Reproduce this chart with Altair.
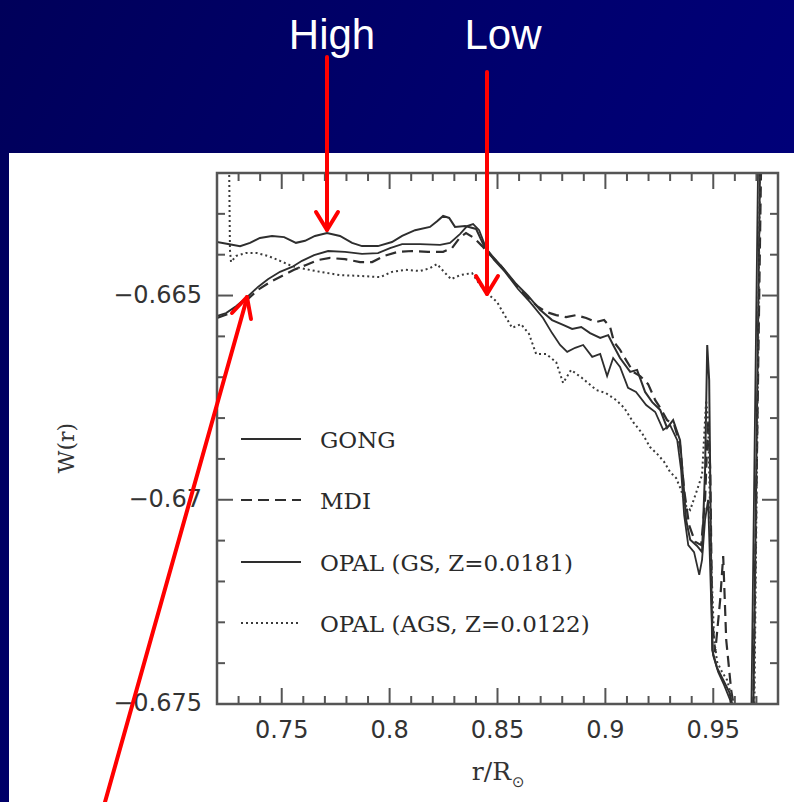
import altair as alt
import pandas as pd

# ---- W(r) profiles: radius r/R_sun and W(r) ----
gong_r = [0.7200, 0.7242, 0.7288, 0.7339, 0.7390, 0.7436, 0.7492, 0.7548, 0.7594, 0.7650,
          0.7715, 0.7793, 0.7872, 0.7946, 0.8002, 0.8058, 0.8141, 0.8234, 0.8280, 0.8327,
          0.8359, 0.8387, 0.8415, 0.8447, 0.8484, 0.8535, 0.8595, 0.8651, 0.8711, 0.8753,
          0.8790, 0.8823, 0.8860, 0.8897, 0.8939, 0.8976, 0.9008, 0.9036, 0.9068, 0.9105,
          0.9142, 0.9189, 0.9231, 0.9268, 0.9300, 0.9333, 0.9351, 0.9365, 0.9384, 0.9411,
          0.9435, 0.9448, 0.9462, 0.9476, 0.9490, 0.9499, 0.9523, 0.9550, 0.9578, 0.9601,
          0.9634, 0.9676, 0.9708]
gong_w = [-0.66550, -0.66543, -0.66526, -0.66504, -0.66479, -0.66460, -0.66442, -0.66430, -0.66415, -0.66401,
          -0.66391, -0.66393, -0.66398, -0.66396, -0.66384, -0.66374, -0.66374, -0.66376, -0.66371, -0.66349,
          -0.66330, -0.66325, -0.66340, -0.66384, -0.66413, -0.66442, -0.66484, -0.66516, -0.66555, -0.66592,
          -0.66621, -0.66638, -0.66628, -0.66621, -0.66650, -0.66643, -0.66697, -0.66653, -0.66675, -0.66726,
          -0.66736, -0.66768, -0.66785, -0.66829, -0.66817, -0.66854, -0.66927, -0.67037, -0.67111, -0.67128,
          -0.67184, -0.67147, -0.67049, -0.67000, -0.67245, -0.67380, -0.67422, -0.67453, -0.67490, -0.67564,
          -0.67735, -0.67539, -0.66168]

mdi_r = [0.7200, 0.7251, 0.7297, 0.7344, 0.7390, 0.7446, 0.7501, 0.7557, 0.7613, 0.7668,
         0.7724, 0.7793, 0.7863, 0.7919, 0.7974, 0.8039, 0.8104, 0.8178, 0.8248, 0.8289,
         0.8327, 0.8354, 0.8391, 0.8429, 0.8466, 0.8512, 0.8568, 0.8628, 0.8684, 0.8725,
         0.8772, 0.8818, 0.8864, 0.8911, 0.8957, 0.8994, 0.9022, 0.9040, 0.9068, 0.9096,
         0.9129, 0.9161, 0.9198, 0.9231, 0.9254, 0.9286, 0.9319, 0.9346, 0.9365, 0.9388,
         0.9416, 0.9444, 0.9462, 0.9476, 0.9486, 0.9495, 0.9509, 0.9532, 0.9546, 0.9560,
         0.9583, 0.9606, 0.9639, 0.9685, 0.9722]
mdi_w = [-0.66555, -0.66545, -0.66526, -0.66508, -0.66486, -0.66467, -0.66452, -0.66437, -0.66425, -0.66413,
         -0.66408, -0.66411, -0.66418, -0.66418, -0.66403, -0.66393, -0.66391, -0.66393, -0.66393, -0.66384,
         -0.66357, -0.66347, -0.66359, -0.66379, -0.66401, -0.66425, -0.66462, -0.66499, -0.66526, -0.66540,
         -0.66548, -0.66553, -0.66548, -0.66555, -0.66565, -0.66560, -0.66577, -0.66614, -0.66633, -0.66658,
         -0.66687, -0.66697, -0.66717, -0.66756, -0.66775, -0.66805, -0.66817, -0.66866, -0.66976, -0.67062,
         -0.67103, -0.67111, -0.67000, -0.66805, -0.66927, -0.67294, -0.67373, -0.67245, -0.67138, -0.67343,
         -0.67466, -0.67539, -0.67735, -0.67539, -0.66168]

gs_r = [0.7200, 0.7251, 0.7307, 0.7353, 0.7399, 0.7455, 0.7511, 0.7566, 0.7608, 0.7654,
        0.7710, 0.7770, 0.7826, 0.7872, 0.7946, 0.8011, 0.8058, 0.8118, 0.8187, 0.8220,
        0.8248, 0.8276, 0.8303, 0.8350, 0.8401, 0.8438, 0.8475, 0.8526, 0.8582, 0.8642,
        0.8697, 0.8753, 0.8804, 0.8846, 0.8888, 0.8929, 0.8976, 0.9013, 0.9036, 0.9068,
        0.9115, 0.9147, 0.9184, 0.9217, 0.9254, 0.9286, 0.9314, 0.9346, 0.9360, 0.9374,
        0.9393, 0.9425, 0.9448, 0.9462, 0.9472, 0.9481, 0.9490, 0.9495, 0.9518, 0.9546,
        0.9574, 0.9597, 0.9625, 0.9685, 0.9717]
gs_w = [-0.66369, -0.66374, -0.66379, -0.66371, -0.66359, -0.66354, -0.66357, -0.66371, -0.66366, -0.66354,
        -0.66347, -0.66354, -0.66371, -0.66379, -0.66379, -0.66369, -0.66354, -0.66340, -0.66332, -0.66318,
        -0.66305, -0.66310, -0.66332, -0.66330, -0.66337, -0.66379, -0.66403, -0.66433, -0.66469, -0.66501,
        -0.66535, -0.66560, -0.66572, -0.66582, -0.66577, -0.66592, -0.66604, -0.66597, -0.66621, -0.66653,
        -0.66687, -0.66682, -0.66736, -0.66761, -0.66780, -0.66824, -0.66805, -0.66854, -0.66947, -0.67049,
        -0.67098, -0.67113, -0.67128, -0.66927, -0.66621, -0.66707, -0.67147, -0.67368, -0.67412, -0.67441,
        -0.67471, -0.67520, -0.67735, -0.67539, -0.66168]

ags_r = [0.7256, 0.7260, 0.7265, 0.7288, 0.7334, 0.7385, 0.7436, 0.7492, 0.7548, 0.7608,
         0.7678, 0.7770, 0.7863, 0.7956, 0.8011, 0.8072, 0.8141, 0.8187, 0.8220, 0.8252,
         0.8285, 0.8327, 0.8382, 0.8419, 0.8456, 0.8498, 0.8535, 0.8568, 0.8609, 0.8646,
         0.8679, 0.8725, 0.8772, 0.8804, 0.8841, 0.8892, 0.8957, 0.9003, 0.9050, 0.9087,
         0.9129, 0.9170, 0.9207, 0.9244, 0.9272, 0.9300, 0.9328, 0.9351, 0.9370, 0.9393,
         0.9425, 0.9448, 0.9467, 0.9476, 0.9490, 0.9504, 0.9518, 0.9541, 0.9564, 0.9588,
         0.9611, 0.9648, 0.9690, 0.9717]
ags_w = [-0.66168, -0.66388, -0.66418, -0.66403, -0.66396, -0.66396, -0.66403, -0.66415, -0.66428, -0.66435,
         -0.66442, -0.66450, -0.66452, -0.66455, -0.66442, -0.66437, -0.66440, -0.66433, -0.66423, -0.66442,
         -0.66460, -0.66450, -0.66445, -0.66474, -0.66496, -0.66516, -0.66550, -0.66579, -0.66570, -0.66594,
         -0.66643, -0.66643, -0.66663, -0.66714, -0.66682, -0.66702, -0.66731, -0.66739, -0.66756, -0.66775,
         -0.66810, -0.66837, -0.66871, -0.66890, -0.66907, -0.66932, -0.66947, -0.66976, -0.67013, -0.67025,
         -0.66976, -0.66939, -0.66756, -0.66805, -0.67147, -0.67343, -0.67397, -0.67422, -0.67441, -0.67490,
         -0.67588, -0.67735, -0.67539, -0.66168]

series_names = ["GONG", "MDI", "OPAL (GS, Z=0.0181)", "OPAL (AGS, Z=0.0122)"]

x_ticks_major = [0.75, 0.80, 0.85, 0.90, 0.95]
x_ticks_minor = [0.73, 0.74, 0.76, 0.77, 0.78, 0.79, 0.81, 0.82, 0.83, 0.84,
                 0.86, 0.87, 0.88, 0.89, 0.91, 0.92, 0.93, 0.94, 0.96, 0.97]
y_ticks_major = [-0.675, -0.670, -0.665]
y_ticks_minor = [-0.674, -0.673, -0.672, -0.671, -0.669, -0.668, -0.667, -0.666, -0.664, -0.663]

# ---- layout (plot area in pixels) ----
W, H = 561, 531
PAD_L, PAD_T, PAD_R, PAD_B = 217, 173, 16, 98
INK = "#333333"

xscale = alt.Scale(domain=[0.72, 0.98], nice=False, zero=False)
yscale = alt.Scale(domain=[-0.675, -0.662], nice=False, zero=False)

rows = []
for name, rs, ws in zip(series_names, [gong_r, mdi_r, gs_r, ags_r], [gong_w, mdi_w, gs_w, ags_w]):
    for i, (r, w) in enumerate(zip(rs, ws)):
        rows.append({"series": name, "r": r, "w": w, "i": i})
profiles = pd.DataFrame(rows)
one = pd.DataFrame({"k": [0]})

styles = {
    "GONG": dict(color="#2e2e2e", strokeWidth=1.8),
    "MDI": dict(color="#2e2e2e", strokeWidth=2.2, strokeDash=[11, 6]),
    "OPAL (GS, Z=0.0181)": dict(color="#2e2e2e", strokeWidth=2.0),
    "OPAL (AGS, Z=0.0122)": dict(color="#3a3a3a", strokeWidth=2.0, strokeDash=[2, 3]),
}

layers = []

# slide background and white panel
layers.append(
    alt.Chart(one).mark_rect(
        color=alt.Gradient(
            gradient="linear",
            stops=[alt.GradientStop(color="#00005a", offset=0),
                   alt.GradientStop(color="#00006e", offset=0.55),
                   alt.GradientStop(color="#00007c", offset=1)],
            x1=0, x2=1, y1=0, y2=0.5,
        )
    ).encode(x=alt.value(-PAD_L), x2=alt.value(W + PAD_R), y=alt.value(-PAD_T), y2=alt.value(H + PAD_B))
)
layers.append(
    alt.Chart(one).mark_rect(color="white").encode(
        x=alt.value(-208), x2=alt.value(W + PAD_R), y=alt.value(-20), y2=alt.value(H + PAD_B)
    )
)

# profile curves
for name in series_names:
    layers.append(
        alt.Chart(profiles).transform_filter(alt.datum.series == name)
        .mark_line(clip=True, **styles[name]).encode(
            x=alt.X("r:Q", scale=xscale, axis=None),
            y=alt.Y("w:Q", scale=yscale, axis=None),
            order="i:Q",
        )
    )

# inward ticks on all four sides
def xticks(vals, length):
    d = pd.DataFrame({"t": vals})
    base = alt.Chart(d).mark_rule(color="#555555", strokeWidth=2)
    xe = alt.X("t:Q", scale=xscale, axis=None)
    return [base.encode(x=xe, y=alt.value(H), y2=alt.value(H - length)),
            base.encode(x=xe, y=alt.value(0), y2=alt.value(length))]

def yticks(vals, length):
    d = pd.DataFrame({"t": vals})
    base = alt.Chart(d).mark_rule(color="#555555", strokeWidth=2)
    ye = alt.Y("t:Q", scale=yscale, axis=None)
    return [base.encode(y=ye, x=alt.value(0), x2=alt.value(length)),
            base.encode(y=ye, x=alt.value(W), x2=alt.value(W - length))]

layers += xticks(x_ticks_major, 16) + xticks(x_ticks_minor, 8)
layers += yticks(y_ticks_major, 16) + yticks(y_ticks_minor, 8)

# tick labels
layers.append(
    alt.Chart(pd.DataFrame({"t": x_ticks_major})).mark_text(
        font="DejaVu Sans", fontSize=24, color=INK, align="center", baseline="top"
    ).encode(x=alt.X("t:Q", scale=xscale, axis=None), y=alt.value(H + 15),
             text=alt.Text("t:Q", format=".2~f"))
)
layers.append(
    alt.Chart(pd.DataFrame({"t": y_ticks_major})).mark_text(
        font="DejaVu Sans", fontSize=24, color=INK, align="right", baseline="middle"
    ).encode(y=alt.Y("t:Q", scale=yscale, axis=None), x=alt.value(-15),
             text=alt.Text("t:Q", format=".3~f"))
)

# frame
layers.append(
    alt.Chart(one).mark_rect(filled=False, color="#555555", strokeWidth=2.5).encode(
        x=alt.value(0), x2=alt.value(W), y=alt.value(0), y2=alt.value(H)
    )
)

# inset legend
legend_rows = [266, 327, 389, 450]
for name, ly in zip(series_names, legend_rows):
    layers.append(
        alt.Chart(one).mark_rule(**styles[name]).encode(
            x=alt.value(24), x2=alt.value(84), y=alt.value(ly)
        )
    )
    layers.append(
        alt.Chart(one).mark_text(
            text=name, font="DejaVu Serif", fontSize=23, color="#2a2a2a",
            align="left", baseline="middle"
        ).encode(x=alt.value(103), y=alt.value(ly + 2))
    )

# axis titles
layers.append(
    alt.Chart(one).mark_text(text="W(r)", font="DejaVu Serif", fontSize=22, color=INK,
                             angle=270, align="center", baseline="middle")
    .encode(x=alt.value(-150), y=alt.value(275))
)
layers.append(
    alt.Chart(one).mark_text(text="r/R", font="DejaVu Serif", fontSize=25, color=INK,
                             align="right", baseline="alphabetic")
    .encode(x=alt.value(294), y=alt.value(607))
)
layers.append(
    alt.Chart(one).mark_text(text="⊙", font="DejaVu Sans", fontSize=15, color=INK,
                             align="left", baseline="alphabetic")
    .encode(x=alt.value(295), y=alt.value(614))
)

# annotations above the panel
for label, cx in [("High", 115), ("Low", 286)]:
    layers.append(
        alt.Chart(one).mark_text(text=label, font="Liberation Sans", fontSize=42, color="white",
                                 align="center", baseline="alphabetic")
        .encode(x=alt.value(cx), y=alt.value(-124))
    )

arrows = [
    # (x1, y1, x2, y2) in plot pixels
    (110, -116, 110, 56), (110, 57, 99, 39), (110, 57, 121, 39),
    (270, -101, 270, 120), (270, 121, 259, 103), (270, 121, 281, 103),
    (-112, 629, 30, 125), (30, 124, 15, 140), (30, 124, 34, 146),
]
for x1, y1, x2, y2 in arrows:
    layers.append(
        alt.Chart(one).mark_rule(color="#ff0000", strokeWidth=4, strokeCap="round").encode(
            x=alt.value(x1), y=alt.value(y1), x2=alt.value(x2), y2=alt.value(y2)
        )
    )

chart = alt.layer(*layers).properties(
    width=W, height=H,
    padding={"left": PAD_L, "top": PAD_T, "right": PAD_R, "bottom": PAD_B},
    autosize=alt.AutoSizeParams(type="none"),
    background="#00006a",
).configure_view(strokeWidth=0)

chart.save("out.html", embed_options={"renderer": "svg", "actions": False})
